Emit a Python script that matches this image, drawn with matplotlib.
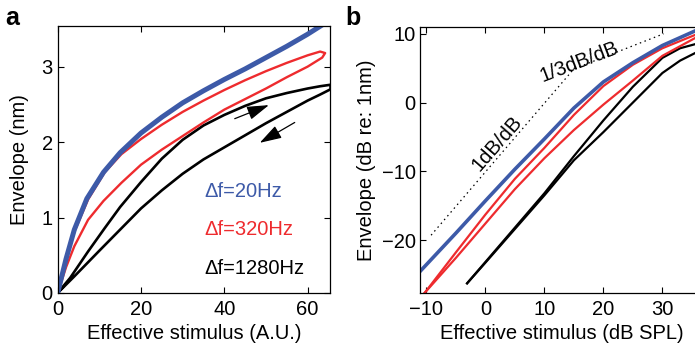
import numpy as np
import matplotlib
matplotlib.use("Agg")
import matplotlib.pyplot as plt

plt.rcParams['font.family'] = ['Liberation Sans', 'DejaVu Sans']
plt.rcParams['axes.linewidth'] = 0.9

# --- colours ---
BLUE = '#3d5aa8'
RED = '#ee2b2e'
BLACK = '#000000'

# --- panel a: envelope vs effective stimulus (A.U.) ---
a_blue_x = [0, 2, 4, 7, 11, 15, 20, 25, 30, 35, 40, 45, 50, 55, 60, 64]
a_blue_y = [0, 0.45, 0.84, 1.25, 1.6, 1.86, 2.12, 2.33, 2.52, 2.68, 2.83, 2.97, 3.12, 3.27, 3.43, 3.57]

# red loop: outgoing (upper) then returning (lower) branch
a_red_out_x = [0, 2, 4, 7.3, 11.3, 15.3, 20, 25, 30, 35, 40, 45, 50, 55, 60, 63, 64.2]
a_red_out_y = [0, 0.43, 0.81, 1.24, 1.6, 1.84, 2.04, 2.23, 2.4, 2.55, 2.69, 2.82, 2.94, 3.05, 3.15, 3.2, 3.18]
a_red_back_x = [63.5, 60, 55, 50, 45, 40, 35, 30, 25, 20, 15.3, 11, 7.3, 4, 2, 0]
a_red_back_y = [3.12, 3.0, 2.86, 2.71, 2.57, 2.43, 2.26, 2.08, 1.9, 1.7, 1.46, 1.22, 0.97, 0.62, 0.34, 0]

# black loop
a_blk_out_x = [0, 3, 7.3, 11.3, 15, 20, 25, 30, 35, 40, 45, 50, 55, 60, 63, 65.5]
a_blk_out_y = [0, 0.2, 0.55, 0.86, 1.14, 1.47, 1.78, 2.03, 2.22, 2.36, 2.48, 2.58, 2.65, 2.71, 2.74, 2.76]
a_blk_back_x = [65.5, 63, 60, 55, 50, 45, 40, 35, 30, 25, 20, 15, 10, 7, 4, 0]
a_blk_back_y = [2.7, 2.63, 2.55, 2.4, 2.25, 2.09, 1.93, 1.77, 1.58, 1.36, 1.12, 0.84, 0.56, 0.39, 0.22, 0]

a_labels = ['\u0394f=20Hz', '\u0394f=320Hz', '\u0394f=1280Hz']
a_label_y = [1.345, 0.837, 0.328]

# --- panel b: same data in dB ---
b_blue_x = [-11, -5, 0, 5, 10, 15, 20, 25, 30, 36]
b_blue_y = [-24.5, -19.0, -14.3, -9.7, -5.3, -0.8, 3.0, 5.8, 8.3, 10.6]

b_red_x = [-10.3, -5, 0, 5, 10, 15, 20, 25, 30, 36]
b_red_up_y = [-27.7, -21.8, -16.3, -11.1, -6.6, -1.8, 2.4, 5.5, 7.9, 10.0]
b_red_lo_y = [-27.7, -22.6, -17.6, -12.6, -8.1, -4.0, -0.3, 3.2, 6.8, 9.6]

b_blk_x = [-3.1, 0, 5, 10, 15, 20, 25, 30, 33, 36]
b_blk_up_y = [-26.3, -23.2, -18.2, -13.2, -7.8, -2.6, 2.3, 6.5, 7.9, 8.6]
b_blk_lo_y = [-26.3, -23.3, -18.4, -13.5, -8.4, -4.3, 0.0, 4.3, 6.1, 7.4]

# reference slopes (1 dB/dB then 1/3 dB/dB)
b_ref_x = [-9.2, 15.0, 30.2]
b_ref_y = [-19.3, 4.9, 10.0]

TICK_FS = 14.5
LABEL_FS = 14.5

fig = plt.figure(figsize=(6.95, 3.5), dpi=100)
ax_a = fig.add_axes([0.083, 0.163, 0.392, 0.763])
ax_b = fig.add_axes([0.605, 0.163, 0.4075, 0.760])

for ax in (ax_a, ax_b):
    ax.tick_params(direction='in', top=True, right=True, length=4, width=0.8,
                   labelsize=TICK_FS)
    ax.tick_params(axis='x', pad=5)
    ax.tick_params(axis='y', pad=3.5)

# panel a
ax_a.plot(a_blk_out_x + a_blk_back_x, a_blk_out_y + a_blk_back_y, color=BLACK, lw=1.9)
ax_a.plot(a_red_out_x + a_red_back_x, a_red_out_y + a_red_back_y, color=RED, lw=1.7)
ax_a.plot(a_blue_x, a_blue_y, color=BLUE, lw=3.6, solid_capstyle='butt')

arrow = dict(arrowstyle='-|>,head_length=0.45,head_width=0.14', mutation_scale=30,
             lw=0.9, color=BLACK, shrinkA=0, shrinkB=0)
ax_a.annotate('', xy=(50.7, 2.49), xytext=(42.5, 2.31), arrowprops=arrow)
ax_a.annotate('', xy=(48.5, 1.99), xytext=(56.9, 2.26), arrowprops=arrow)

for txt, yy, col in zip(a_labels, a_label_y, [BLUE, RED, BLACK]):
    ax_a.text(35.3, yy, txt, color=col, fontsize=LABEL_FS, ha='left', va='center')

ax_a.set_xlim(0, 65.4)
ax_a.set_ylim(0, 3.54)
ax_a.set_xticks([0, 20, 40, 60])
ax_a.set_yticks([0, 1, 2, 3])
ax_a.set_xlabel('Effective stimulus (A.U.)', fontsize=LABEL_FS, labelpad=4)
ax_a.set_ylabel('Envelope (nm)', fontsize=LABEL_FS, labelpad=9)

# panel b
ax_b.plot(b_ref_x, b_ref_y, color=BLACK, lw=0.9, linestyle=(0, (1.2, 2.8)))
ax_b.plot(b_blk_x, b_blk_up_y, color=BLACK, lw=1.6)
ax_b.plot(b_blk_x, b_blk_lo_y, color=BLACK, lw=1.6)
ax_b.plot(b_red_x, b_red_up_y, color=RED, lw=1.6)
ax_b.plot(b_red_x, b_red_lo_y, color=RED, lw=1.6)
ax_b.plot(b_blue_x, b_blue_y, color=BLUE, lw=2.6)

ax_b.text(2.0, -5.9, '1dB/dB', fontsize=TICK_FS, rotation=49, rotation_mode='anchor',
          ha='center', va='center')
ax_b.text(15.9, 5.9, '1/3dB/dB', fontsize=TICK_FS, rotation=21, rotation_mode='anchor',
          ha='center', va='center')

ax_b.set_xlim(-11, 37)
ax_b.set_ylim(-27.7, 11.0)
ax_b.set_xticks([-10, 0, 10, 20, 30])
ax_b.set_yticks([-20, -10, 0, 10])
ax_b.set_xlabel('Effective stimulus (dB SPL)', fontsize=LABEL_FS, labelpad=4)
ax_b.set_ylabel('Envelope (dB re: 1nm)', fontsize=LABEL_FS, labelpad=4)

# panel letters
fig.text(5 / 695, 1 - 25 / 350, 'a', fontsize=18, fontweight='bold', ha='left', va='baseline')
fig.text(345 / 695, 1 - 25 / 350, 'b', fontsize=18, fontweight='bold', ha='left', va='baseline')

fig.savefig('out.png', dpi=100)
